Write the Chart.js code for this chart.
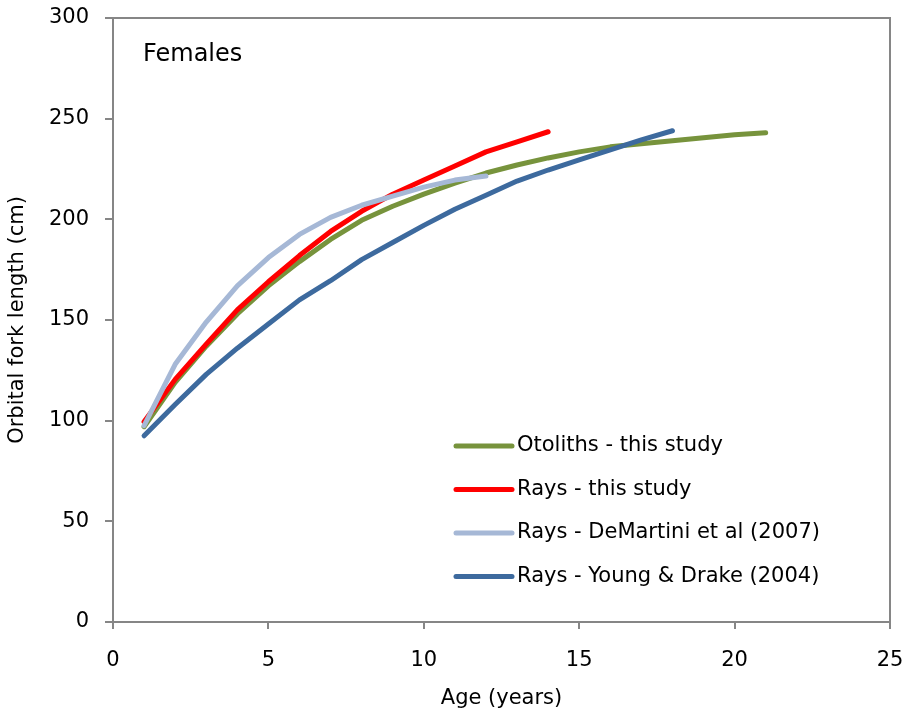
<!DOCTYPE html>
<html>
<head>
<meta charset="utf-8">
<script src="https://cdn.jsdelivr.net/npm/chart.js@4"></script>
<style>
  html, body { margin: 0; padding: 0; background: #fff; }
  #wrap { width: 903px; height: 717px; position: relative; }
</style>
</head>
<body>
<div id="wrap"><canvas id="growthChart"></canvas></div>
<script>
// Age (years) for each series
const otolithAges = [1, 2, 3, 4, 5, 6, 7, 8, 9, 10, 11, 12, 13, 14, 15, 16, 17, 18, 19, 20, 21];
const otolithLengths = [97, 119, 137, 153, 167, 179, 190, 199.5, 206.5, 212.5, 218, 223, 227, 230.5, 233.5, 236, 237.5, 239, 240.5, 242, 243];

const raysAges = [1, 2, 3, 4, 5, 6, 7, 8, 9, 10, 11, 12, 13, 14];
const raysLengths = [99.5, 120.5, 138, 155, 169, 182, 194, 204, 212.5, 219.5, 226.5, 233.5, 238.5, 243.5];

const demartiniAges = [1, 2, 3, 4, 5, 6, 7, 8, 9, 10, 11, 12];
const demartiniLengths = [97.5, 128, 149, 167, 181, 192.5, 201, 207, 211.5, 216, 219.5, 221.5];

const youngAges = [1, 2, 3, 4, 5, 6, 7, 8, 9, 10, 11, 12, 13, 14, 15, 16, 17, 18];
const youngLengths = [92.5, 108, 123, 136, 148, 160, 169.5, 180, 188.5, 197, 205, 212, 219, 224.5, 229.5, 234.5, 239.5, 244];

const seriesLabels = [
    'Otoliths - this study',
    'Rays - this study',
    'Rays - DeMartini et al (2007)',
    'Rays - Young & Drake (2004)'
];

const xTicks = [0, 5, 10, 15, 20, 25];
const yTicks = [0, 50, 100, 150, 200, 250, 300];

const colors = {
    otoliths: '#77933C',
    rays: '#FF0000',
    demartini: '#A6B8D6',
    young: '#3D6A9E'
};
const axisGray = '#868686';
const fontFamily = "'DejaVu Sans', sans-serif";

function toPoints(xs, ys) {
    return xs.map((x, i) => ({ x: x, y: ys[i] }));
}

function lineSet(label, xs, ys, color, order) {
    return {
        label: label,
        data: toPoints(xs, ys),
        borderColor: color,
        backgroundColor: color,
        borderWidth: 5,
        borderCapStyle: 'round',
        borderJoinStyle: 'round',
        pointRadius: 0,
        fill: false,
        tension: 0,
        order: order
    };
}

// Plot frame, "Females" label and the in-plot legend
const framePlugin = {
    id: 'framePlugin',
    beforeDatasetsDraw(chart) {
        const a = chart.chartArea;
        const ctx = chart.ctx;
        ctx.save();
        ctx.strokeStyle = axisGray;
        ctx.lineWidth = 2;
        ctx.strokeRect(a.left, a.top, a.right - a.left, a.bottom - a.top);
        ctx.restore();
    },
    afterDatasetsDraw(chart) {
        const ctx = chart.ctx;
        const a = chart.chartArea;
        ctx.save();
        ctx.fillStyle = '#000';
        ctx.font = '24px ' + fontFamily;
        ctx.textBaseline = 'middle';
        ctx.textAlign = 'left';
        ctx.fillText('Females', a.left + 30, a.top + 37);

        // legend
        ctx.font = '21px ' + fontFamily;
        const startX = 456;
        const rowY = 446;
        const rowGap = 43.5;
        chart.data.datasets.forEach((ds, i) => {
            const y = rowY + i * rowGap;
            ctx.strokeStyle = ds.borderColor;
            ctx.lineWidth = 5;
            ctx.lineCap = 'round';
            ctx.beginPath();
            ctx.moveTo(startX, y);
            ctx.lineTo(startX + 56, y);
            ctx.stroke();
            ctx.fillStyle = '#000';
            ctx.fillText(ds.label, startX + 61, y);
        });
        ctx.restore();
    }
};

const ctx = document.getElementById('growthChart');

new Chart(ctx, {
    type: 'line',
    data: {
        datasets: [
            lineSet(seriesLabels[0], otolithAges, otolithLengths, colors.otoliths, 3),
            lineSet(seriesLabels[1], raysAges, raysLengths, colors.rays, 2),
            lineSet(seriesLabels[2], demartiniAges, demartiniLengths, colors.demartini, 1),
            lineSet(seriesLabels[3], youngAges, youngLengths, colors.young, 0)
        ]
    },
    options: {
        responsive: true,
        maintainAspectRatio: false,
        animation: false,
        layout: {
            padding: { left: 0, top: 18, right: 13, bottom: 0 }
        },
        plugins: {
            legend: { display: false },
            tooltip: { enabled: false }
        },
        scales: {
            x: {
                type: 'linear',
                min: 0,
                max: 25,
                afterBuildTicks: function (axis) {
                    axis.ticks = xTicks.map(v => ({ value: v }));
                },
                afterFit: function (axis) {
                    axis.height = 95;
                    axis.paddingLeft = 0;
                    axis.paddingRight = 0;
                },
                grid: {
                    drawOnChartArea: false,
                    drawTicks: true,
                    tickLength: 7,
                    color: axisGray,
                    lineWidth: 2
                },
                border: { display: true, color: axisGray, width: 2 },
                ticks: {
                    color: '#000',
                    padding: 19,
                    maxRotation: 0,
                    font: { family: fontFamily, size: 21 }
                },
                title: {
                    display: true,
                    text: 'Age (years)',
                    color: '#000',
                    font: { family: fontFamily, size: 21 },
                    padding: { top: 0, bottom: 6 }
                }
            },
            y: {
                type: 'linear',
                min: 0,
                max: 300,
                afterBuildTicks: function (axis) {
                    axis.ticks = yTicks.map(v => ({ value: v }));
                },
                afterFit: function (axis) {
                    axis.width = 113;
                    axis.paddingTop = 0;
                    axis.paddingBottom = 0;
                },
                grid: {
                    drawOnChartArea: false,
                    drawTicks: true,
                    tickLength: 8,
                    color: axisGray,
                    lineWidth: 2
                },
                border: { display: true, color: axisGray, width: 2 },
                ticks: {
                    color: '#000',
                    padding: 16,
                    font: { family: fontFamily, size: 21 }
                },
                title: {
                    display: true,
                    text: 'Orbital fork length (cm)',
                    color: '#000',
                    font: { family: fontFamily, size: 21 },
                    padding: { top: 5, bottom: 0 }
                }
            }
        }
    },
    plugins: [framePlugin]
});
</script>
</body>
</html>
